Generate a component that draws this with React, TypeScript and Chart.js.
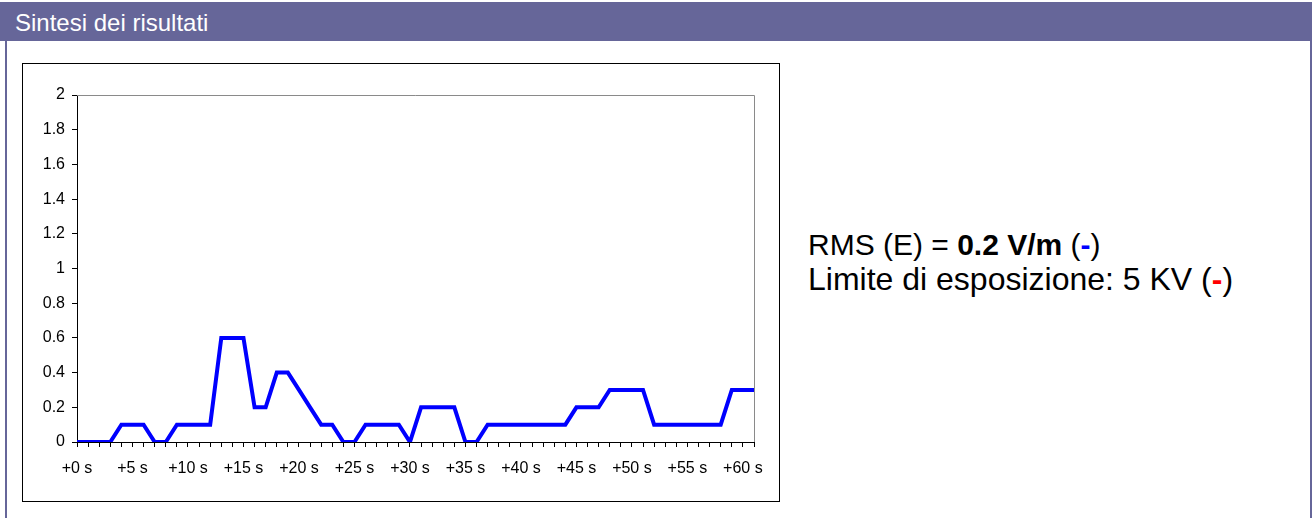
import React, { useEffect, useRef } from 'react';
import { Chart, registerables } from 'chart.js';

Chart.register(...registerables);

// Seconds (categories) 0..61
const seconds = [
  0, 1, 2, 3, 4, 5, 6, 7, 8, 9, 10, 11, 12, 13, 14, 15, 16, 17, 18, 19, 20,
  21, 22, 23, 24, 25, 26, 27, 28, 29, 30, 31, 32, 33, 34, 35, 36, 37, 38, 39, 40,
  41, 42, 43, 44, 45, 46, 47, 48, 49, 50, 51, 52, 53, 54, 55, 56, 57, 58, 59, 60, 61,
];

// Field values (V/m)
const fieldValues = [
  0, 0, 0, 0, 0.1, 0.1, 0.1, 0, 0, 0.1, 0.1, 0.1, 0.1, 0.6, 0.6, 0.6, 0.2, 0.2, 0.4, 0.4, 0.3,
  0.2, 0.1, 0.1, 0, 0, 0.1, 0.1, 0.1, 0.1, 0, 0.2, 0.2, 0.2, 0.2, 0, 0, 0.1, 0.1, 0.1, 0.1,
  0.1, 0.1, 0.1, 0.1, 0.2, 0.2, 0.2, 0.3, 0.3, 0.3, 0.3, 0.1, 0.1, 0.1, 0.1, 0.1, 0.1, 0.1, 0.3, 0.3, 0.3,
];

// Tick labels on the x axis (one every 5 categories)
const xTickLabels = ['+0 s', '+5 s', '+10 s', '+15 s', '+20 s', '+25 s', '+30 s', '+35 s', '+40 s', '+45 s', '+50 s', '+55 s', '+60 s'];
const xLabelStep = 5;

// Y axis range
const yMin = 0;
const yMax = 2;
const yStep = 0.2;

const FONT = '"Liberation Sans", Arial, sans-serif';

const plotFrame = {
  id: 'plotFrame',
  afterDraw(chart: any) {
    const { ctx, chartArea } = chart;
    const l = Math.round(chartArea.left);
    const t = Math.round(chartArea.top) + 0.5;
    const r = Math.round(chartArea.right) + 0.5;
    const b = Math.round(chartArea.bottom);
    ctx.save();
    ctx.strokeStyle = '#8a8a8a';
    ctx.lineWidth = 1;
    ctx.beginPath();
    ctx.moveTo(l, t);
    ctx.lineTo(r, t);
    ctx.lineTo(r, b);
    ctx.stroke();
    ctx.restore();
  },
};

function LineChart() {
  const ref = useRef<HTMLCanvasElement | null>(null);
  useEffect(() => {
    if (!ref.current) return;
    const chart = new Chart(ref.current, {
      type: 'line',
      data: {
        labels: seconds.map(String),
        datasets: [
          {
            data: fieldValues,
            borderColor: '#0000ff',
            borderWidth: 4,
            pointRadius: 0,
            tension: 0,
            fill: false,
          },
        ],
      },
      options: {
        animation: false,
        responsive: false,
        maintainAspectRatio: false,
        layout: { padding: { top: 31, right: 25, left: 0, bottom: 0 } },
        plugins: { legend: { display: false }, tooltip: { enabled: false } },
        scales: {
          x: {
            type: 'category',
            offset: false,
            grid: { display: true, drawOnChartArea: false, drawTicks: true, tickLength: 5, color: '#000' },
            border: { display: true, color: '#000', width: 1 },
            ticks: {
              autoSkip: false,
              maxRotation: 0,
              minRotation: 0,
              padding: 12,
              color: '#000',
              font: { family: FONT, size: 16 },
              callback: (_v: any, i: number) => (i % xLabelStep === 0 ? xTickLabels[i / xLabelStep] ?? '' : ''),
            },
            afterFit: (s: any) => {
              s.height = 59;
            },
          },
          y: {
            min: yMin,
            max: yMax,
            grid: { display: true, drawOnChartArea: false, drawTicks: true, tickLength: 5, color: '#000' },
            border: { display: true, color: '#000', width: 1 },
            ticks: {
              stepSize: yStep,
              padding: 7,
              color: '#000',
              font: { family: FONT, size: 16 },
              callback: (v: any) => String(Math.round(Number(v) * 10) / 10),
            },
            afterFit: (s: any) => {
              s.width = 54;
            },
          },
        },
      },
      plugins: [plotFrame],
    });
    return () => chart.destroy();
  }, []);
  return <canvas ref={ref} width={756} height={437} style={{ display: 'block', width: 756, height: 437 }} />;
}

export default function App() {
  return (
    <div style={{ position: 'relative', width: 1312, height: 518, overflow: 'hidden', fontFamily: FONT, background: '#fff' }}>
      <style>{'body{margin:0;}'}</style>
      <div
        style={{
          position: 'absolute',
          left: 0,
          top: 2,
          width: 1312,
          height: 39,
          background: '#666699',
        }}
      />
      <div
        style={{
          position: 'absolute',
          left: 15,
          top: 11,
          fontSize: 24,
          lineHeight: '24px',
          color: '#fff',
          whiteSpace: 'nowrap',
        }}
      >
        Sintesi dei risultati
      </div>
      <div style={{ position: 'absolute', left: 5, top: 41, width: 2, height: 477, background: '#666699' }} />
      <div style={{ position: 'absolute', left: 1310, top: 41, width: 2, height: 477, background: '#666699' }} />
      <div
        style={{
          position: 'absolute',
          left: 22,
          top: 63,
          width: 758,
          height: 439,
          border: '1px solid #000',
          boxSizing: 'border-box',
        }}
      >
        <LineChart />
      </div>
      <div
        style={{
          position: 'absolute',
          left: 808,
          top: 228,
          lineHeight: '34px',
          color: '#000',
          whiteSpace: 'nowrap',
        }}
      >
        <div style={{ fontSize: 30 }}>
          RMS (E) = <b>0.2 V/m</b> (<b style={{ color: '#0000ff' }}>-</b>)
        </div>
        <div style={{ fontSize: 32 }}>
          Limite di esposizione: 5 KV (<b style={{ color: '#ff0000' }}>-</b>)
        </div>
      </div>
    </div>
  );
}
